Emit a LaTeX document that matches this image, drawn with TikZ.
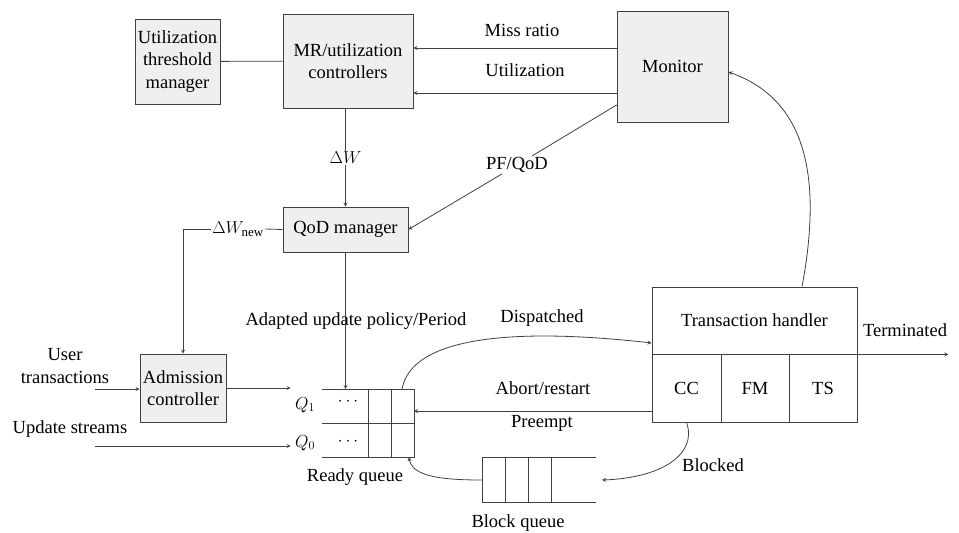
\documentclass[tikz,border=0pt]{standalone}
\usepackage{fontspec}
\setmainfont{Liberation Serif}
\definecolor{linegray}{HTML}{404040}
\definecolor{boxgray}{HTML}{EFEFEF}
\begin{document}
\begin{tikzpicture}[>=stealth, x=1pt, y=-1pt, line width=0.8pt,
	font=\fontsize{18.5}{22.5}\selectfont,
	box/.style={draw=linegray, fill=boxgray, inner sep=0pt, align=center},
	cell/.style={draw=linegray, inner sep=0pt, align=center},
	lbl/.style={inner sep=1pt, align=center}]
	\useasboundingbox (0,0) rectangle (959,533);
	% control boxes
	\node[box, minimum width=85, minimum height=85] (utm) at (177.5,61.5) {Utilization\\threshold\\manager};
	\node[box, minimum width=130, minimum height=94] (mr) at (348,61) {MR/utilization\\controllers};
	\node[box, minimum width=111, minimum height=111] (mon) at (672.5,66.5) {Monitor};
	\node[box, minimum width=125, minimum height=45] (qod) at (345.5,229.5) {QoD manager};
	\node[box, minimum width=86, minimum height=68] (adm) at (183,388) {Admission\\controller};
	% transaction handler
	\node[cell, minimum width=205, minimum height=67] (th) at (754.5,320.5) {Transaction handler};
	\node[cell, minimum width=69, minimum height=68] (cc) at (686.5,388) {CC};
	\node[cell, minimum width=68, minimum height=68] (fm) at (755,388) {FM};
	\node[cell, minimum width=68, minimum height=68] (ts) at (823,388) {TS};
	% ready queue
	\draw[linegray] (322,389) -- (414,389) -- (414,457) -- (322,457);
	\draw[linegray] (322,423) -- (414,423);
	\foreach \x in {368,391}
	\draw[linegray] (\x,389) -- (\x,457);
	\node (dots1) at (348,402) {$\cdots$};
	\node (dots0) at (348,442) {$\cdots$};
	\node[lbl] (q1) at (305,405) {$Q_1$};
	\node[lbl] (q0) at (305,443) {$Q_0$};
	\node[lbl] (rql) at (355,477) {Ready queue};
	\coordinate (rqtop) at (345.5,389);
	\coordinate (rqdisp) at (402,389);
	\coordinate (rqin) at (414,411);
	\coordinate (rqbot) at (409,457);
	% block queue
	\draw[linegray] (596,457) -- (482,457) -- (482,502) -- (596,502);
	\foreach \x in {505,528,551}
	\draw[linegray] (\x,457) -- (\x,502);
	\node[lbl] (bql) at (518,523) {Block queue};
	\coordinate (bqin) at (602,480);
	\coordinate (bqout) at (482,480);
	% labels
	\node[lbl] (missr) at (522,30) {Miss ratio};
	\node[lbl] (util) at (525,70) {Utilization};
	\node[lbl] (pfq) at (517,165) {PF/QoD};
	\node[lbl] (dw) at (345.5,158) {$\Delta W$};
	\node[lbl] (dwn) at (238,229) {$\Delta W_{\mathrm{new}}$};
	\node[lbl] (adp) at (356,321) {Adapted update policy/Period};
	\node[lbl] (disp) at (542,318) {Dispatched};
	\node[lbl] (abort) at (543,388) {Abort/restart};
	\node[lbl] (pre) at (542,423) {Preempt};
	\node[lbl] (blk) at (713,465) {Blocked};
	\node[lbl] (term) at (905,330) {Terminated};
	\node[lbl] (ut) at (65,366) {User\\transactions};
	\node[lbl] (ust) at (70,429) {Update streams};
	\coordinate (utin) at (95,389);
	\coordinate (usin) at (95,446);
	% connectors
	\draw[linegray] (utm) -- (mr);
	\draw[->, linegray] ([yshift=18.5pt]mon.west) -- ([yshift=18.5pt]mon.west -| mr.east);
	\draw[->, linegray] ([yshift=-26.5pt]mon.west) -- ([yshift=-26.5pt]mon.west -| mr.east);
	\draw[linegray] ([yshift=-38.5pt]mon.west) -- (pfq);
	\draw[->, linegray] (pfq) -- (qod.east);
	\draw[linegray] (mr.south -| dw) -- (dw.north);
	\draw[->, linegray] (dw.south) -- (qod.north);
	\draw[linegray] (qod.west) -- (dwn.east);
	\draw[->, linegray] (dwn.west) -| (adm.north);
	\draw[->, linegray] (qod.south) -- (rqtop);
	\draw[->, linegray] (utin) -- (utin -| adm.west);
	\draw[->, linegray] (adm.east) -- ([xshift=-3pt]adm.east -| q1.west);
	\draw[->, linegray] (usin) -- ([xshift=-3pt]usin -| q0.west);
	\draw[->, linegray] (rqdisp) .. controls (412,335) and (520,328) .. ([yshift=-22.5pt]th.west);
	\draw[->, linegray] (cc.west |- rqin) -- (rqin);
	\draw[->, linegray] (cc.south) .. controls (698,455) and (660,478) .. (bqin);
	\draw[->, linegray] (bqout) .. controls (440,480) and (412,476) .. (rqbot);
	\draw[->, linegray] (th.south east) -- ++(91,0);
	\draw[->, linegray] ([xshift=47.5pt]th.north) .. controls (822,180) and (808,100) .. ([yshift=-5.5pt]mon.east);
\end{tikzpicture}
\end{document}
